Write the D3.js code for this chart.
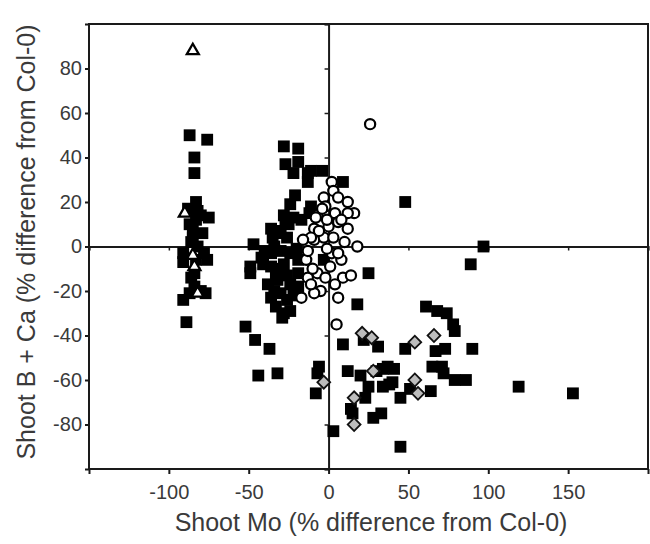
<!DOCTYPE html>
<html>
<head>
<meta charset="utf-8">
<script src="https://cdn.jsdelivr.net/npm/d3@7"></script>
<style>
  html, body { margin: 0; padding: 0; background: #fff; }
  svg { display: block; font-family: "Liberation Sans", Arial, sans-serif; }
</style>
</head>
<body>
<svg id="chart" width="650" height="544"></svg>
<script>
// ---- Data (x = Shoot Mo %, y = Shoot B + Ca %) ----
const squaresX = [-87,-76,-84,-84,-83,-88,-75,-80,-83,-85,-79,-85,-82,-86,-91,-91,-78,-76,-84,-84,-91,-77,-89,-87,-80,-86,-83,-87,-82,
  -28,-19,-27,-19,-22,-13,-13,-4,-11,9,-21,-24,-11,-12,-27,-22,-17,-36,-31,-47,-28,-30,
  -49,-49,-41,-36,-30,-24,-19,-36,-28,-19,-38,-32,-24,-36,-30,-26,-33,-28,-29,-19,-24,-3,-34,-40,-33,-26,-42,-22,-30,-34,-20,-26,-35,-25,
  -52,-46,-37,-44,-32,-6,-7,-8,3,
  48,97,89,25,18,9,31,22,48,61,68,74,78,79,73,90,12,20,25,34,41,34,40,45,51,65,71,72,64,79,86,23,14,15,28,33,45,119,153,37,30,38,67];
const squaresY = [50,48,40,33,20,17,13,14,12,7,6,4,0,2,-3,-7,-3,-6,-12,-18,-24,-21,-34,-21,-20,-14,-6,10,16,
  45,44,37,38,33,33,29,34,34,29,23,19,18,15,12,13,12,8,6,1,14,7,
  -9,-12,-8,-3,-2,-3,-6,-9,-8,-12,-17,-15,-17,-23,-21,-24,-27,-30,-32,-18,-29,-6,0,-2,-12,-13,-5,-22,-10,-20,-1,4,4,10,
  -36,-42,-46,-58,-57,-54,-57,-66,-83,
  20,0,-8,-12,-26,-44,-45,-42,-46,-27,-29,-30,-35,-38,-46,-46,-56,-58,-63,-55,-55,-63,-61,-68,-64,-54,-54,-57,-65,-60,-60,-68,-73,-75,-77,-75,-90,-63,-66,-54,-56,-62,-47];

const circlesX = [26,2,3,6,-3,12,16,-2,-7,4,12,0,6,12,-9,-9,-3,3,18,2,8,1,-7,-2,9,4,-5,-9,6,5,-14,-13,-11,-17,-13,-4,-8,-1,-6,-11,-16,8,10,-1,14,-10,6];
const circlesY = [55,29,25,22,22,20,15,18,14,15,15,9,11,8,8,3,4,4,0,-3,-6,-9,-12,-14,-14,-17,-20,-21,-23,-35,-6,-14,-17,-23,-2,17,13,12,7,4,3,12,2,-1,-13,-10,-3];

const diamondsX = [21,27,54,66,28,-3,54,56,16,16];
const diamondsY = [-39,-41,-43,-40,-56,-61,-60,-66,-68,-80];

const trianglesX = [-85,-90,-84,-82,-85];
const trianglesY = [88,15,-9,-21,-4];

const xTicks = [-150,-100,-50,0,50,100,150,200];
const xTickLabels = ["","-100","-50","0","50","100","150",""];
const yTicks = [-100,-80,-60,-40,-20,0,20,40,60,80,100];
const yTickLabels = ["","-80","-60","-40","-20","0","20","40","60","80",""];

const xTitle = "Shoot Mo (% difference from Col-0)";
const yTitle = "Shoot B + Ca (% difference from Col-0)";

// ---- Layout ----
const svg = d3.select("#chart");
const mLeft = 89, mRight = 648, mTop = 24, mBottom = 469;
const x = d3.scaleLinear().domain([-150, 200]).range([mLeft, mRight]);
const y = d3.scaleLinear().domain([-100, 100]).range([mBottom, mTop]);
const textColor = "#3a3a3a";
const lineColor = "#1a1a1a";

// Frame
svg.append("rect")
  .attr("x", mLeft).attr("y", mTop)
  .attr("width", mRight - mLeft).attr("height", mBottom - mTop)
  .attr("fill", "none").attr("stroke", lineColor).attr("stroke-width", 2);

// Zero lines with small ticks
svg.append("g")
  .attr("transform", `translate(0,${y(0)})`)
  .call(d3.axisBottom(x).tickValues(xTicks).tickSize(4).tickFormat(""))
  .call(g => g.select(".domain").attr("stroke", lineColor).attr("stroke-width", 2))
  .call(g => g.selectAll(".tick line").attr("stroke", lineColor).attr("stroke-width", 1.5));
svg.append("g")
  .attr("transform", `translate(${x(0)},0)`)
  .call(d3.axisLeft(y).tickValues(yTicks).tickSize(4).tickFormat(""))
  .call(g => g.select(".domain").attr("stroke", lineColor).attr("stroke-width", 2))
  .call(g => g.selectAll(".tick line").attr("stroke", lineColor).attr("stroke-width", 1.5));

// Bottom axis
const xAxis = svg.append("g")
  .attr("transform", `translate(0,${mBottom})`)
  .call(d3.axisBottom(x).tickValues(xTicks).tickSize(5).tickPadding(11)
    .tickFormat((d, i) => xTickLabels[i]));
xAxis.select(".domain").remove();
xAxis.selectAll(".tick line").attr("stroke", lineColor).attr("stroke-width", 2);
xAxis.selectAll("text").attr("fill", textColor).style("font-size", "20px");

// Left axis
const yAxis = svg.append("g")
  .attr("transform", `translate(${mLeft},0)`)
  .call(d3.axisLeft(y).tickValues(yTicks).tickSize(4).tickPadding(3)
    .tickFormat((d, i) => yTickLabels[i]));
yAxis.select(".domain").remove();
yAxis.selectAll(".tick line").attr("stroke", lineColor).attr("stroke-width", 2);
yAxis.selectAll("text").attr("fill", textColor).style("font-size", "20px");

// Titles
svg.append("text")
  .attr("x", 371).attr("y", 531)
  .attr("text-anchor", "middle")
  .attr("fill", textColor).style("font-size", "25px")
  .text(xTitle);
svg.append("text")
  .attr("transform", `translate(35,242) rotate(-90)`)
  .attr("text-anchor", "middle")
  .attr("fill", textColor).style("font-size", "25px")
  .text(yTitle);

// ---- Marks ----
const plot = svg.append("g");
const sq = d3.symbol().type(d3.symbolSquare).size(140);
plot.selectAll("path.sq")
  .data(d3.range(squaresX.length))
  .join("path").attr("class", "sq")
  .attr("transform", i => `translate(${x(squaresX[i])},${y(squaresY[i])})`)
  .attr("d", sq)
  .attr("fill", "#000");

plot.selectAll("circle.ci")
  .data(d3.range(circlesX.length))
  .join("circle").attr("class", "ci")
  .attr("cx", i => x(circlesX[i])).attr("cy", i => y(circlesY[i]))
  .attr("r", 5.1)
  .attr("fill", "#fff").attr("stroke", "#000").attr("stroke-width", 2.2);

const dm = d3.symbol().type(d3.symbolSquare).size(82);
plot.selectAll("path.dm")
  .data(d3.range(diamondsX.length))
  .join("path").attr("class", "dm")
  .attr("transform", i => `translate(${x(diamondsX[i])},${y(diamondsY[i])}) rotate(45)`)
  .attr("d", dm)
  .attr("fill", "#bdbdbd").attr("stroke", "#111").attr("stroke-width", 1.8);

const tr = d3.symbol().type(d3.symbolTriangle).size(62);
plot.selectAll("path.tr")
  .data(d3.range(trianglesX.length))
  .join("path").attr("class", "tr")
  .attr("transform", i => `translate(${x(trianglesX[i])},${y(trianglesY[i])})`)
  .attr("d", tr)
  .attr("fill", "#fff").attr("stroke", "#000").attr("stroke-width", 2.3);
</script>
</body>
</html>
